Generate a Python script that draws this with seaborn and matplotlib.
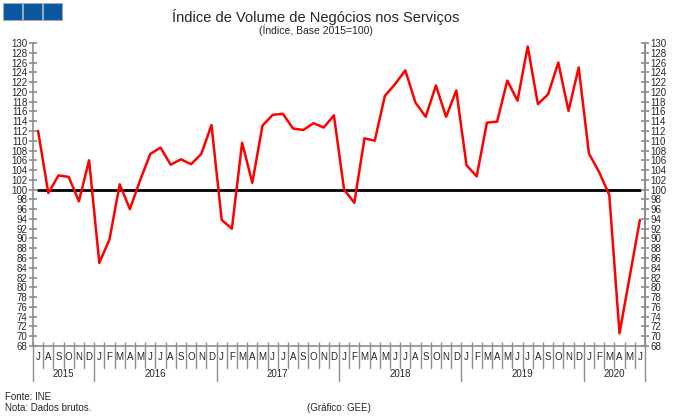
import numpy as np
import pandas as pd
import matplotlib
matplotlib.use("Agg")
import matplotlib.pyplot as plt
import matplotlib.transforms as mtransforms
from matplotlib.patches import Rectangle
import seaborn as sns

# Indice de volume de negocios nos servicos, Jul 2015 - Jun 2020
start = "2015-07"
valores = [
    112.0, 99.3, 102.9, 102.6, 97.6, 106.0,
    85.0, 89.8, 101.1, 96.0, 101.9, 107.3, 108.6, 105.1, 106.2, 105.2, 107.3, 113.2,
    93.8, 92.0, 109.6, 101.4, 113.1, 115.3, 115.5, 112.5, 112.2, 113.6, 112.7, 115.2,
    100.0, 97.3, 110.5, 110.0, 119.2, 121.6, 124.4, 117.8, 114.9, 121.3, 114.9, 120.3,
    105.0, 102.7, 113.7, 113.9, 122.3, 118.2, 129.3, 117.5, 119.5, 126.0, 116.1, 125.0,
    107.4, 103.6, 98.9, 70.6, 82.2, 93.8,
]
letras_meses = ["J", "F", "M", "A", "M", "J", "J", "A", "S", "O", "N", "D"]
base = 100
y_ticks = list(range(68, 131, 2))

titulo = "Índice de Volume de Negócios nos Serviços"
subtitulo = "(Índice, Base 2015=100)"
fonte = "Fonte: INE"
nota = "Nota: Dados brutos."
grafico = "(Gráfico: GEE)"

datas = pd.date_range(start, periods=len(valores), freq="MS")
df = pd.DataFrame({"pos": np.arange(len(valores)), "valor": valores, "data": datas})

sns.set_style("white")
plt.rcParams["font.family"] = ["Liberation Sans", "DejaVu Sans"]

fig = plt.figure(figsize=(6.8, 4.18), dpi=100)
ax = fig.add_axes([33 / 680, 1 - 346 / 418, 612 / 680, 303 / 418])

cinza = "#8c8c8c"

sns.lineplot(data=df, x="pos", y="valor", color="#ff0000", linewidth=1.8, ax=ax, zorder=3)
ax.plot([df["pos"].iloc[0], df["pos"].iloc[-1]], [base, base], color="black", linewidth=2, zorder=2)

ax.set_xlim(-0.5, len(valores) - 0.5)
ax.set_ylim(68, 130)
ax.set_xlabel("")
ax.set_ylabel("")

for s in ["top"]:
    ax.spines[s].set_visible(False)
for s in ["left", "right", "bottom"]:
    ax.spines[s].set_color(cinza)
    ax.spines[s].set_linewidth(1.2)

ax.set_yticks(y_ticks)
ax.set_yticklabels([str(v) for v in y_ticks])
ax.tick_params(axis="y", direction="inout", length=6, width=1.2, color=cinza,
               labelsize=7, pad=1, left=True)
ax.set_xticks(np.arange(len(valores) + 1) - 0.5)
ax.set_xticklabels([])
ax.tick_params(axis="x", direction="in", length=3, width=1, color=cinza, bottom=True)

ax2 = ax.twinx()
ax2.set_ylim(ax.get_ylim())
ax2.set_yticks(y_ticks)
ax2.set_yticklabels([str(v) for v in y_ticks])
ax2.tick_params(axis="y", direction="inout", length=6, width=1.2, color=cinza,
                labelsize=7, pad=1)
for s in ["top", "left", "bottom"]:
    ax2.spines[s].set_visible(False)
ax2.spines["right"].set_color(cinza)
ax2.spines["right"].set_linewidth(1.2)

# eixo de meses e anos por baixo do grafico
trans = mtransforms.blended_transform_factory(ax.transData, ax.transAxes)
for i, d in enumerate(datas):
    ax.text(i, -0.036, letras_meses[d.month - 1], transform=trans,
            ha="center", va="center", fontsize=7)
    longo = d.month == 1 or i == 0
    ax.plot([i - 0.5, i - 0.5], [0, -0.116 if longo else -0.073], transform=trans,
            color=cinza, linewidth=1, clip_on=False)
ax.plot([len(valores) - 0.5] * 2, [0, -0.116], transform=trans,
        color=cinza, linewidth=1, clip_on=False)

for ano, grupo in df.groupby(df["data"].dt.year):
    ax.text(grupo["pos"].mean(), -0.092, str(ano), transform=trans,
            ha="center", va="center", fontsize=7)

# titulos e notas
fig.text(316 / 680, 1 - 17 / 418, titulo, ha="center", va="center", fontsize=10.5)
fig.text(316 / 680, 1 - 30 / 418, subtitulo, ha="center", va="center", fontsize=7.5)
fig.text(5 / 680, 1 - 397 / 418, fonte, ha="left", va="center", fontsize=7)
fig.text(5 / 680, 1 - 408 / 418, nota, ha="left", va="center", fontsize=7)
fig.text(307 / 680, 1 - 408 / 418, grafico, ha="left", va="center", fontsize=7)

for x0 in [3, 23, 43]:
    fig.patches.append(Rectangle((x0 / 680, 1 - 20 / 418), 19 / 680, 17 / 418,
                                 transform=fig.transFigure, facecolor="#0a56a0",
                                 edgecolor="#9aa8b8", linewidth=0.8))

fig.savefig("out.png", dpi=100)
